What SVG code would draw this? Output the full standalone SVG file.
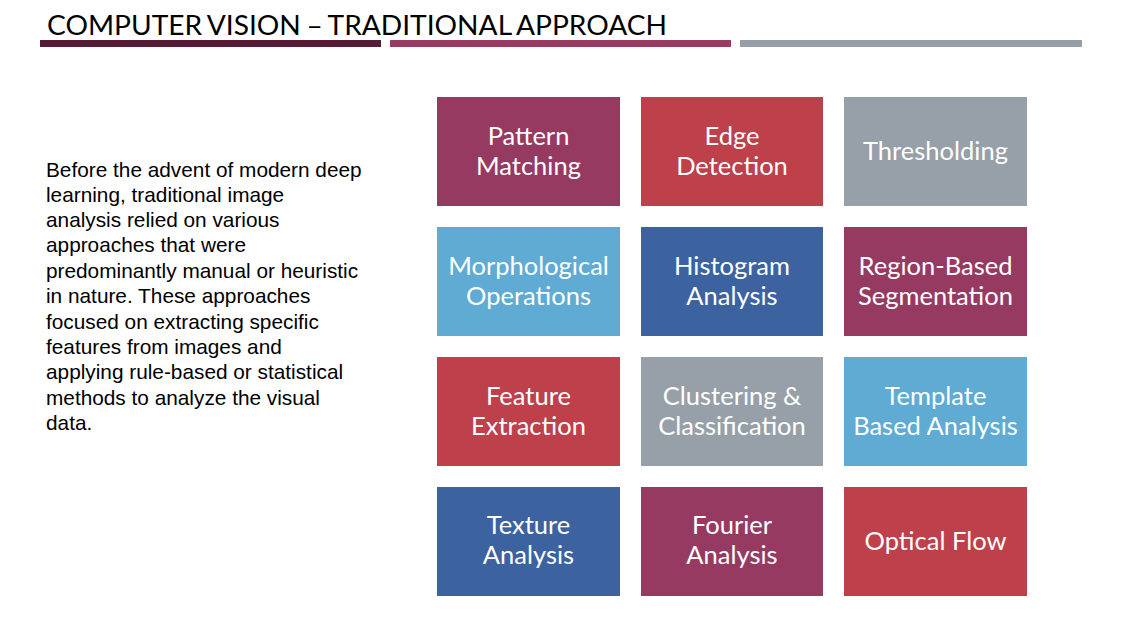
<svg xmlns="http://www.w3.org/2000/svg" width="1122" height="629" viewBox="0 0 1122 629">
  <style>
    .title { font-family: Lato, "Open Sans", sans-serif; font-size: 27px; fill: #000; word-spacing: -1.5px; }
    .body { font-family: "Liberation Sans", Arial, sans-serif; font-size: 20.8px; fill: #000; }
    .lbl { font-family: Lato, "Open Sans", sans-serif; font-size: 25.5px; fill: #fff; text-anchor: middle; }
    .maroon { fill: #963a62; }
    .red { fill: #bd404b; }
    .gray { fill: #979fa8; }
    .sky { fill: #60abd3; }
    .blue { fill: #3d62a0; }
  </style>
  <rect width="1122" height="629" fill="#fff"/>

  <!-- heading and rule bars -->
  <g id="heading">
    <text class="title" x="47" y="35" textLength="620" lengthAdjust="spacingAndGlyphs">COMPUTER VISION – TRADITIONAL APPROACH</text>
    <rect x="40" y="40" width="341" height="7" fill="#561c35"/>
    <rect x="390" y="40" width="341" height="7" fill="#9a3b62"/>
    <rect x="740" y="40" width="342" height="7" fill="#979ea7"/>
  </g>

  <!-- intro paragraph -->
  <g id="intro">
    <text class="body" x="46" y="177">Before the advent of modern deep</text>
    <text class="body" x="46" y="202">learning, traditional image</text>
    <text class="body" x="46" y="227">analysis relied on various</text>
    <text class="body" x="46" y="252">approaches that were</text>
    <text class="body" x="46" y="278">predominantly manual or heuristic</text>
    <text class="body" x="46" y="303">in nature. These approaches</text>
    <text class="body" x="46" y="329">focused on extracting specific</text>
    <text class="body" x="46" y="354">features from images and</text>
    <text class="body" x="46" y="379">applying rule-based or statistical</text>
    <text class="body" x="46" y="405">methods to analyze the visual</text>
    <text class="body" x="46" y="430">data.</text>
  </g>

  <!-- row 1 -->
  <g id="pattern-matching">
    <rect class="maroon" x="437" y="97" width="183" height="109"/>
    <text class="lbl" x="528.5" y="145">Pattern</text>
    <text class="lbl" x="528.5" y="175">Matching</text>
  </g>
  <g id="edge-detection">
    <rect class="red" x="641" y="97" width="182" height="109"/>
    <text class="lbl" x="732" y="145">Edge</text>
    <text class="lbl" x="732" y="175">Detection</text>
  </g>
  <g id="thresholding">
    <rect class="gray" x="844" y="97" width="183" height="109"/>
    <text class="lbl" x="935.5" y="160">Thresholding</text>
  </g>

  <!-- row 2 -->
  <g id="morphological-operations">
    <rect class="sky" x="437" y="227" width="183" height="109"/>
    <text class="lbl" x="528.5" y="275">Morphological</text>
    <text class="lbl" x="528.5" y="305">Operations</text>
  </g>
  <g id="histogram-analysis">
    <rect class="blue" x="641" y="227" width="182" height="109"/>
    <text class="lbl" x="732" y="275">Histogram</text>
    <text class="lbl" x="732" y="305">Analysis</text>
  </g>
  <g id="region-segmentation">
    <rect class="maroon" x="844" y="227" width="183" height="109"/>
    <text class="lbl" x="935.5" y="275">Region-Based</text>
    <text class="lbl" x="935.5" y="305">Segmentation</text>
  </g>

  <!-- row 3 -->
  <g id="feature-extraction">
    <rect class="red" x="437" y="357" width="183" height="109"/>
    <text class="lbl" x="528.5" y="405">Feature</text>
    <text class="lbl" x="528.5" y="435">Extraction</text>
  </g>
  <g id="clustering-classification">
    <rect class="gray" x="641" y="357" width="182" height="109"/>
    <text class="lbl" x="732" y="405">Clustering &amp;</text>
    <text class="lbl" x="732" y="435">Classification</text>
  </g>
  <g id="template-analysis">
    <rect class="sky" x="844" y="357" width="183" height="109"/>
    <text class="lbl" x="935.5" y="405">Template</text>
    <text class="lbl" x="935.5" y="435">Based Analysis</text>
  </g>

  <!-- row 4 -->
  <g id="texture-analysis">
    <rect class="blue" x="437" y="487" width="183" height="109"/>
    <text class="lbl" x="528.5" y="534">Texture</text>
    <text class="lbl" x="528.5" y="564">Analysis</text>
  </g>
  <g id="fourier-analysis">
    <rect class="maroon" x="641" y="487" width="182" height="109"/>
    <text class="lbl" x="732" y="534">Fourier</text>
    <text class="lbl" x="732" y="564">Analysis</text>
  </g>
  <g id="optical-flow">
    <rect class="red" x="844" y="487" width="183" height="109"/>
    <text class="lbl" x="935.5" y="550">Optical Flow</text>
  </g>

  <!-- no connectors in this figure -->
  <g id="connectors"/>
</svg>
